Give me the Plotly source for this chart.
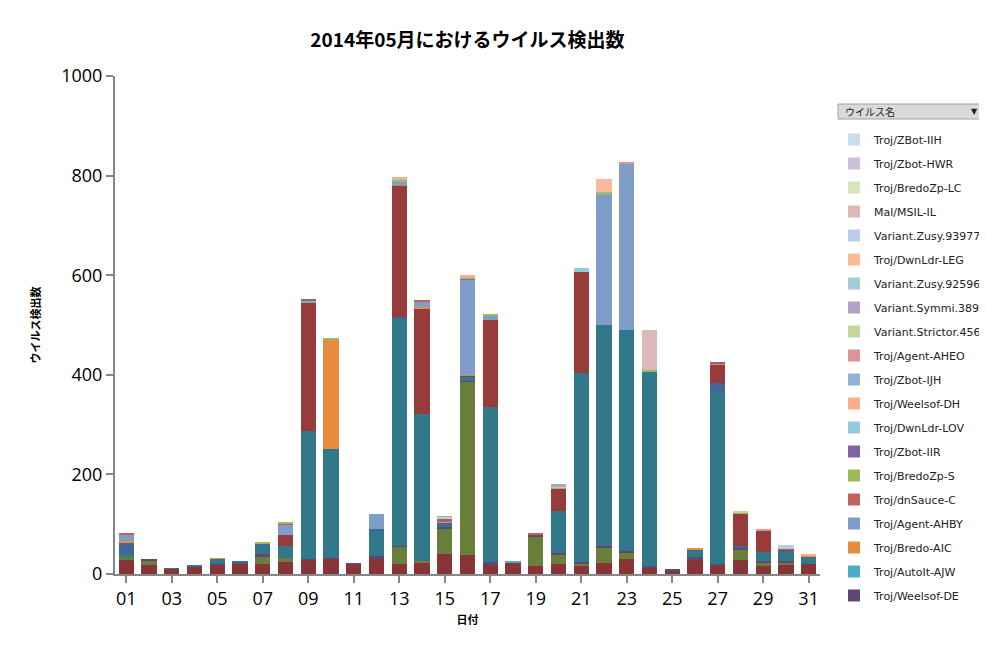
import plotly.graph_objects as go

days = [f"{d:02d}" for d in range(1, 32)]
tick_labels = [f"{d:02d}" for d in range(1, 32, 2)]

base_red = [28,18,11,16,20,21,20,24,29,32,20,31,20,24,40,38,20,24,16,20,16,22,30,14,8,28,18,28,16,20,20]
olive = [8,9,0,0,0,0,16,8,0,0,0,0,35,2,52,348,0,0,60,18,6,32,14,0,0,0,0,22,8,4,0]
weelsof_de = [0,3,0,0,1,3,4,0,2,1,1,5,2,0,4,2,4,0,2,4,2,2,3,3,2,6,3,3,2,2,0]
teal = [4,0,1,2,10,2,20,24,257,218,0,51,457,296,3,9,312,0,0,85,380,444,443,390,0,14,342,0,18,22,16]
dark_blue = [23,0,0,0,0,0,2,0,0,0,0,3,3,0,4,0,0,0,0,0,0,0,0,0,0,2,20,3,0,0,0]
upper_red = [0,0,0,0,0,0,0,22,257,0,0,0,264,211,0,2,174,0,2,44,203,0,0,0,0,0,37,66,44,2,0]
autoit_ajw = [0,0,0,0,0,0,0,0,0,0,0,0,2,0,0,2,0,2,0,0,0,0,0,0,0,0,0,0,0,0,0]
bredo_aic = [3,0,0,0,1,0,0,0,0,219,0,0,2,4,2,1,0,0,0,0,0,0,0,0,0,2,2,0,0,0,2]
agent_ahby = [14,0,0,0,0,0,0,22,2,0,0,30,3,11,0,190,10,0,0,0,0,262,335,0,0,0,0,0,0,0,0]
dnsauce_c = [3,0,0,0,0,0,0,2,0,0,0,0,0,1,2,2,0,0,2,0,0,0,0,0,0,0,0,0,0,2,0]
bredozp_s = [0,0,0,0,0,0,2,1,2,2,0,0,4,0,0,2,2,0,0,2,0,4,0,2,0,0,0,2,0,0,0]
zbot_iir = [0,0,0,0,0,0,0,0,2,0,0,0,0,0,4,0,0,0,0,0,0,0,0,0,0,0,2,0,0,0,0]
dwnldr_lov = [0,0,0,0,0,0,0,0,0,0,0,0,2,0,0,2,0,0,0,0,8,0,0,0,0,0,0,0,0,0,0]
weelsof_dh = [0,0,0,0,0,0,0,0,0,0,0,0,2,0,0,2,0,0,0,0,0,0,0,0,0,0,0,0,0,0,2]
zbot_ijh = [0]*21 + [2] + [0]*9
agent_aheo = [0]*22 + [2] + [0]*5 + [2,0,0]
stricor = [0]*14 + [4] + [0]*4 + [2] + [0]*7 + [2] + [0]*3
symmi = [0]*14 + [1] + [0]*4 + [5] + [0]*11
zusy_92596 = [0]*29 + [2, 0]
dwnldr_leg = [0]*21 + [26] + [0]*9
zusy_93977 = [0]*29 + [4, 0]
msil_il = [0]*23 + [80] + [0]*7
bredozp_lc = [0]*31
zbot_hwr = [0]*31
zbot_iih = [0]*31

series = [
    ("Troj/Agent-AHAS", base_red, "#893537", False),
    ("Troj/BredoZp-AA", olive, "#6A803A", False),
    ("Troj/Weelsof-DE", weelsof_de, "#5F4878", True),
    ("Troj/Agent-AHAT", teal, "#31788A", False),
    ("Troj/Zbot-IIA", dark_blue, "#3F6797", False),
    ("Troj/Agent-AHAU", upper_red, "#973C3B", False),
    ("Troj/AutoIt-AJW", autoit_ajw, "#4BACC6", True),
    ("Troj/Bredo-AIC", bredo_aic, "#E88C3F", True),
    ("Troj/Agent-AHBY", agent_ahby, "#7F9DC9", True),
    ("Troj/dnSauce-C", dnsauce_c, "#C0625F", True),
    ("Troj/BredoZp-S", bredozp_s, "#9BBB59", True),
    ("Troj/Zbot-IIR", zbot_iir, "#8064A2", True),
    ("Troj/DwnLdr-LOV", dwnldr_lov, "#93CDDD", True),
    ("Troj/Weelsof-DH", weelsof_dh, "#F9B08A", True),
    ("Troj/Zbot-IJH", zbot_ijh, "#95B3D7", True),
    ("Troj/Agent-AHEO", agent_aheo, "#D99694", True),
    ("Variant.Strictor.45673", stricor, "#C3D69B", True),
    ("Variant.Symmi.38933", symmi, "#B3A2C7", True),
    ("Variant.Zusy.92596", zusy_92596, "#A5CCDA", True),
    ("Troj/DwnLdr-LEG", dwnldr_leg, "#FABA98", True),
    ("Variant.Zusy.93977", zusy_93977, "#B9CDE5", True),
    ("Mal/MSIL-IL", msil_il, "#DEB8B7", True),
    ("Troj/BredoZp-LC", bredozp_lc, "#D7E4BD", True),
    ("Troj/Zbot-HWR", zbot_hwr, "#CCC1DA", True),
    ("Troj/ZBot-IIH", zbot_iih, "#C6DFE9", True),
]

fig = go.Figure()
n = len(series)
for i, (name, vals, color, show) in enumerate(series):
    fig.add_trace(go.Bar(x=days, y=vals, name=name, marker_color=color,
                         marker_line_width=0, showlegend=show, legendgroup=f"g{i}",
                         legendrank=n - i))

L, R, T, B = 107, 175, 68, 82
W, H = 987, 648
pw, ph = W - L - R, H - T - B
def px(x): return (x - L) / pw
def py(y): return (H - B - y) / ph

fig.update_layout(
    width=W, height=H, barmode="stack", bargap=0.33,
    paper_bgcolor="white", plot_bgcolor="white",
    margin=dict(l=L, r=R, t=T, b=B, autoexpand=False),
    font=dict(family="DejaVu Sans, Noto Sans CJK JP", color="#000"),
    title=dict(text="<b>2014年05月におけるウイルス検出数</b>", x=0.5, xref="paper",
               y=1 - 32 / H, yanchor="middle",
               font=dict(size=19, family="Noto Sans CJK JP")),
    xaxis=dict(type="category", tickmode="array", tickvals=tick_labels, ticktext=tick_labels,
               automargin=False,
               showline=True, linecolor="#868686", linewidth=2, ticks="outside",
               tickcolor="#868686", ticklen=7, tickwidth=2, showgrid=False,
               tickfont=dict(size=18, family="Open Sans"),
               title=dict(text="<b>日付</b>", font=dict(size=11, family="Noto Sans CJK JP"), standoff=8)),
    yaxis=dict(range=[0, 1000], dtick=200, showline=True, linecolor="#868686", linewidth=2,
               automargin=False,
               ticks="outside", tickcolor="#868686", ticklen=7, tickwidth=2, showgrid=False,
               tickfont=dict(size=18, family="Open Sans"),
               title=dict(text="<b>ウイルス検出数</b>", font=dict(size=11, family="Noto Sans CJK JP"), standoff=18)),
    legend=dict(x=px(826), y=py(117), xanchor="left", yanchor="top",
                traceorder="grouped", tracegroupgap=5,
                font=dict(size=11, family="DejaVu Sans", color="#222"),
                itemwidth=30, bgcolor="rgba(0,0,0,0)"),
)

fig.add_shape(type="rect", xref="paper", yref="paper",
              x0=px(830), x1=px(973), y0=py(111), y1=py(96),
              fillcolor="#DADADA", line=dict(color="#A0A0A0", width=1))
fig.add_annotation(xref="paper", yref="paper", x=px(835), y=py(103.5), xanchor="left",
                   yanchor="middle", text="ウイルス名", showarrow=False,
                   font=dict(size=10, family="Noto Sans CJK JP", color="#222"))
fig.add_annotation(xref="paper", yref="paper", x=px(966), y=py(103.5), xanchor="center",
                   yanchor="middle", text="▼", showarrow=False,
                   font=dict(size=8, color="#222"))

fig.write_html("out.html")
